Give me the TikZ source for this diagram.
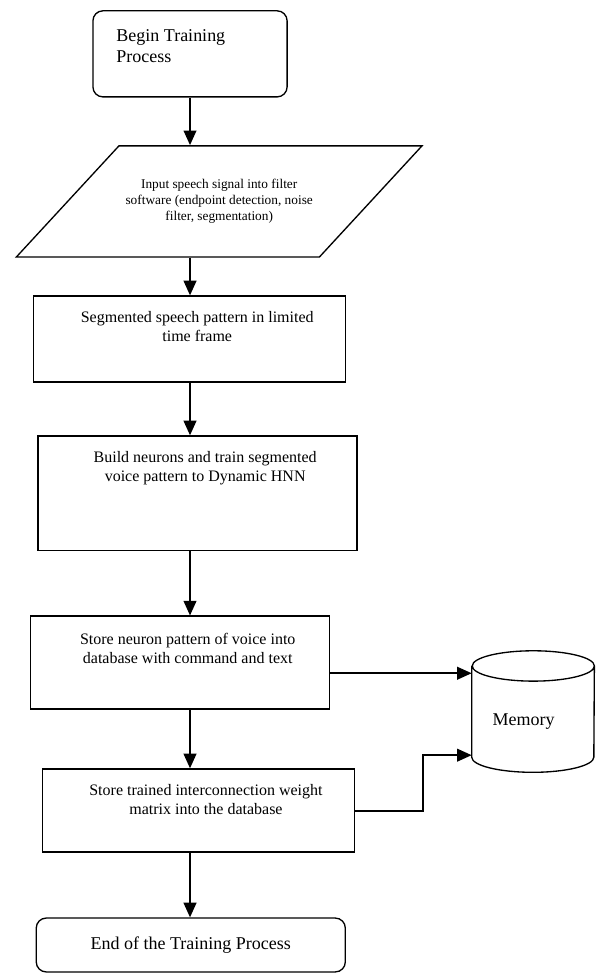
\documentclass[tikz,border=0pt]{standalone}
\usepackage{fontspec}
\setmainfont{Liberation Serif}
\usepackage{tikz}
\usetikzlibrary{
  shapes.geometric, shapes.misc,
  arrows.meta,
  positioning, calc
}
\tikzset{
  basebox/.style={rectangle,draw=black,line width=1pt,align=center,inner sep=0pt},
  termnode/.style={basebox,rounded corners=7.5pt},
  procnode/.style={basebox},
  ionode/.style={trapezium,trapezium left angle=27.9,trapezium right angle=152.1,trapezium stretches=true,
        draw=black,line width=1pt,align=center,font=\fontsize{10}{12}\selectfont,
        minimum width=10.70cm,minimum height=2.93cm},
  memnode/.style={rectangle,minimum width=3.22cm,minimum height=3.19cm},
  memline/.style={line width=1pt},
  boxtext/.style={anchor=north,align=center,inner sep=0pt,font=\fontsize{12}{14.25}\selectfont},
  bigtext/.style={font=\fontsize{13.5}{16}\selectfont},
  arr/.style={-{Triangle[length=11pt,width=9.5pt]},line width=1.5pt,color=black}
}

\begin{document}
\begin{tikzpicture}[node distance=1.0cm and 1.0cm]
  \useasboundingbox (0,0) rectangle (15.82,-25.655);
  %% Training flow
  \node[termnode,minimum width=5.12cm,minimum height=2.27cm,
        label={[boxtext,bigtext,anchor=north west,align=left,xshift=0.63cm,yshift=-0.51cm]north west:Begin Training\\Process}] (begin) at (5.01,-1.42) {};
  \node[ionode,below=1.255cm of begin,xshift=0.77cm] (input) {Input speech signal into filter\\software (endpoint detection, noise\\filter, segmentation)};
  \node[procnode,minimum width=8.23cm,minimum height=2.27cm,below=0.995cm of input,xshift=-0.79cm,
        label={[boxtext,xshift=0.21cm,yshift=-0.41cm]north:Segmented speech pattern in limited\\time frame}] (segment) {};
  \node[procnode,minimum width=8.41cm,minimum height=3.01cm,below=1.385cm of segment,xshift=0.22cm,
        label={[boxtext,xshift=0.2cm,yshift=-0.41cm]north:Build neurons and train segmented\\voice pattern to Dynamic HNN}] (build) {};
  \node[procnode,minimum width=7.88cm,minimum height=2.45cm,below=1.705cm of build,xshift=-0.47cm,
        label={[boxtext,xshift=0.21cm,yshift=-0.45cm]north:Store neuron pattern of voice into\\database with command and text}] (neuron) {};
  \node[procnode,minimum width=8.23cm,minimum height=2.19cm,below=1.545cm of neuron,xshift=0.49cm,
        label={[boxtext,xshift=0.2cm,yshift=-0.42cm]north:Store trained interconnection weight\\matrix into the database}] (weights) {};
  \node[termnode,bigtext,minimum width=8.15cm,minimum height=1.42cm,below=1.705cm of weights,xshift=-0.2cm] (finish) {End of the Training Process};

  %% Storage
  \node[memnode,right=3.74cm of neuron,yshift=-1.29cm,
        label={[bigtext,anchor=center,xshift=-0.25cm,yshift=-0.26cm]center:Memory}] (memory) {};
  \draw[memline] ([yshift=-0.4cm]memory.north west) -- ([yshift=0.4cm]memory.south west)
    arc[start angle=180,end angle=360,x radius=1.61cm,y radius=0.4cm] -- ([yshift=-0.4cm]memory.north east)
    arc[start angle=0,end angle=360,x radius=1.61cm,y radius=0.4cm];

  \draw[arr] (begin) -- (begin |- input.north);
  \draw[arr] (input.south -| begin) -- (begin |- segment.north);
  \draw[arr] (segment.south -| begin) -- (begin |- build.north);
  \draw[arr] (build.south -| begin) -- (begin |- neuron.north);
  \draw[arr] (neuron.south -| begin) -- (begin |- weights.north);
  \draw[arr] (weights.south -| begin) -- (begin |- finish.north);
  \draw[arr] ([yshift=-0.28cm]neuron.east) -- ([yshift=-0.28cm]neuron.east -| memory.west);
  \draw[arr] (weights.east) -- ++(1.79,0) |- ([yshift=-1.15cm]memory.west);
\end{tikzpicture}
\end{document}
